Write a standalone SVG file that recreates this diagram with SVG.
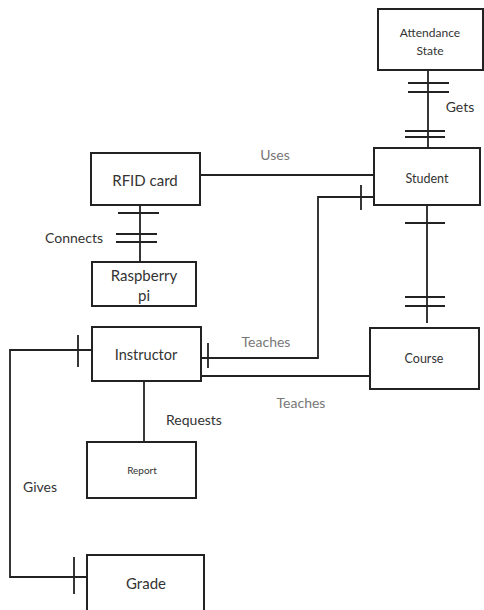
<svg xmlns="http://www.w3.org/2000/svg" width="484" height="610" viewBox="0 0 484 610">
<style>
.box{fill:#fff;stroke:#222;stroke-width:2}
.ln{fill:none;stroke:#222;stroke-width:1.8}
text{font-family:Lato,"Liberation Sans",sans-serif;fill:#333;text-anchor:middle}
.lbl{fill:#333;font-size:14px}
.lg{fill:#777;font-size:14px}
</style>
<rect width="484" height="610" fill="#fff"/>
<g id="connectors">
<path class="ln" d="M428 70V148M408 83H449M408 92H449M405 131H445M405 137H445"/>
<path class="ln" d="M200 175H374"/>
<path class="ln" d="M374 197H318V358H200M361 185V210M208 343V368"/>
<path class="ln" d="M140 205V262M118 213H159M116 234H157M116 242H157"/>
<path class="ln" d="M201 376H370"/>
<path class="ln" d="M144 381V442"/>
<path class="ln" d="M92 350H10V577H87M78 335V367M74 557V594"/>
<path class="ln" d="M427 205V323M405 223H445M405 297H445M405 306H445"/>
<text class="lbl" x="460" y="112">Gets</text>
<text class="lg" x="275" y="160">Uses</text>
<text class="lbl" x="74" y="243">Connects</text>
<text class="lg" x="266" y="347">Teaches</text>
<text class="lg" x="301" y="408">Teaches</text>
<text class="lbl" x="194" y="425">Requests</text>
<text class="lbl" x="40" y="492">Gives</text>
</g>
<g id="attendance"><rect class="box" x="378" y="9" width="105" height="61"/><text x="430" y="37" font-size="12">Attendance</text><text x="430" y="55" font-size="12">State</text></g>
<g id="student"><rect class="box" x="374" y="148" width="106" height="57"/><text x="427" y="183" font-size="12.5">Student</text></g>
<g id="rfid"><rect class="box" x="91" y="153" width="109" height="52"/><text x="145" y="186" font-size="15">RFID card</text></g>
<g id="raspberry"><rect class="box" x="92" y="262" width="104" height="44"/><text x="144" y="281" font-size="15">Raspberry</text><text x="144" y="301" font-size="15">pi</text></g>
<g id="instructor"><rect class="box" x="92" y="327" width="109" height="54"/><text x="146" y="360" font-size="14.5">Instructor</text></g>
<g id="course"><rect class="box" x="370" y="328" width="109" height="61"/><text x="424" y="363" font-size="12.5">Course</text></g>
<g id="report"><rect class="box" x="87" y="442" width="109" height="56"/><text x="142" y="474" font-size="10">Report</text></g>
<g id="grade"><rect class="box" x="87" y="555" width="117" height="60"/><text x="146" y="589" font-size="15">Grade</text></g>
</svg>
